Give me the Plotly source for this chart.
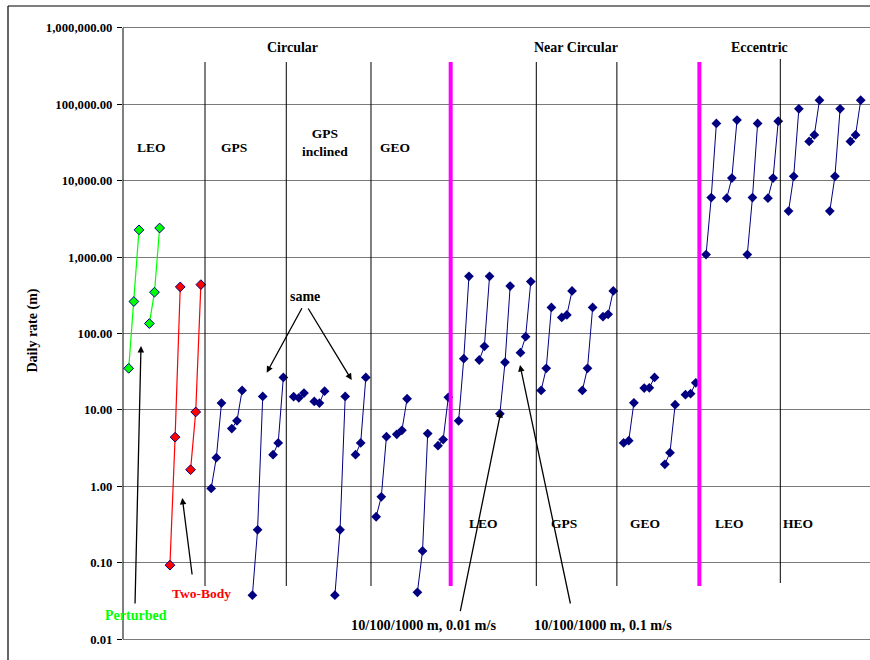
import math
import plotly.graph_objects as go

# ---------------- data (daily rate, m) ----------------
# each section: groups of three values (10 / 100 / 1000 m)
perturbed_leo = [[35, 262, 2270], [135, 347, 2400]]
two_body_leo = [[0.093, 4.4, 407], [1.65, 9.4, 436]]
circ_gps = [[0.94, 2.37, 12.3], [5.7, 7.2, 18], [0.0376, 0.27, 15], [2.6, 3.7, 26.6]]
circ_gps_incl = [[14.9, 14.4, 16.6], [12.9, 12.3, 17.6], [0.0376, 0.27, 15], [2.6, 3.7, 26.6]]
circ_geo = [[0.40, 0.73, 4.47], [4.8, 5.4, 14], [0.041, 0.143, 4.9], [3.4, 4.1, 14.6]]
nc_leo = [[7.2, 46.8, 560], [45, 68, 560], [8.9, 42, 418], [56, 91, 478]]
nc_gps = [[18, 35, 219], [162, 175, 361], [18, 35, 219], [166, 178, 361]]
nc_geo = [[3.7, 3.96, 12.4], [19.3, 19.5, 26.6], [1.94, 2.76, 11.7], [15.8, 16.3, 22.6]]
ecc_leo = [[1080, 6000, 56000], [5900, 10800, 62000], [1080, 6000, 56000], [5900, 10800, 60000]]
ecc_heo = [[4000, 11400, 87000], [32600, 39600, 113000], [4000, 11400, 87000], [32600, 39600, 113000]]

tick_vals = [0.01, 0.1, 1, 10, 100, 1000, 10000, 100000, 1000000]
tick_text = ["0.01", "0.10", "1.00", "10.00", "100.00", "1,000.00",
             "10,000.00", "100,000.00", "1,000,000.00"]

GREEN, RED, NAVY, MAGENTA = "#00FF00", "#FF0000", "#000080", "#FF00FF"

series = [
    ("Perturbed", perturbed_leo, GREEN),
    ("Two-Body", two_body_leo, RED),
    ("Circular GPS", circ_gps, NAVY),
    ("Circular GPS inclined", circ_gps_incl, NAVY),
    ("Circular GEO", circ_geo, NAVY),
    ("Near Circular LEO", nc_leo, NAVY),
    ("Near Circular GPS", nc_gps, NAVY),
    ("Near Circular GEO", nc_geo, NAVY),
    ("Eccentric LEO", ecc_leo, NAVY),
    ("Eccentric HEO", ecc_heo, NAVY),
]

# ---------------- layout geometry ----------------
W, H = 870, 660
ML, MR, MT, MB = 123, 0, 24, 17
Y0, Y1 = -2.05, 6.05
X0, X1 = -1.106, 143.8


def xp(px):
    return (px - ML) / (W - ML - MR)


def yp(py):
    return (H - MB - py) / (H - MT - MB)


def yv(v):
    return (math.log10(v) - Y0) / (Y1 - Y0)


fig = go.Figure()
g = 0
for name, groups, col in series:
    xs, ys = [], []
    for grp in groups:
        for k, v in enumerate(grp):
            xs.append(4 * g + k)
            ys.append(v)
        xs.append(None)
        ys.append(None)
        g += 1
    fig.add_trace(go.Scatter(
        x=xs, y=ys, mode="lines+markers", name=name, connectgaps=False,
        line=dict(color=col, width=1.2 if col != NAVY else 1),
        marker=dict(symbol="diamond", size=7.5, color=col,
                    line=dict(color=NAVY, width=1 if col != NAVY else 0)),
        showlegend=False, hoverinfo="x+y",
    ))

shapes = []
# section dividers (in category units)
dividers = [(14.8, "black", 1), (30.57, "black", 1), (47.0, "black", 1),
            (62.46, MAGENTA, 4), (79.07, "black", 1), (94.7, "black", 1),
            (110.7, MAGENTA, 4)]
for xv, col, w in dividers:
    shapes.append(dict(type="line", xref="x", yref="paper", x0=xv, x1=xv,
                       y0=yp(586), y1=yp(62), line=dict(color=col, width=w)))
shapes.append(dict(type="line", xref="x", yref="paper", x0=126.4, x1=126.4,
                   y0=yp(583), y1=yp(59), line=dict(color="black", width=1)))
# y axis line
shapes.append(dict(type="line", xref="paper", yref="paper", x0=0, x1=0,
                   y0=yv(0.01), y1=yv(1e6), line=dict(color="black", width=1)))
# outer frame
shapes.append(dict(type="line", xref="paper", yref="paper", x0=xp(8), x1=xp(8),
                   y0=yp(6), y1=yp(680), line=dict(color="black", width=1.2)))
shapes.append(dict(type="line", xref="paper", yref="paper", x0=xp(8), x1=xp(900),
                   y0=yp(6), y1=yp(6), line=dict(color="black", width=1.2)))

FONT = "Liberation Serif"
anns = []


def txt(s, px, py, size=14, color="black", angle=0):
    anns.append(dict(text=s, x=xp(px), y=yp(py), xref="paper", yref="paper",
                     showarrow=False, xanchor="center", yanchor="middle",
                     textangle=angle,
                     font=dict(family=FONT, size=size, color=color, weight="bold")))


def arrow(tx, ty, hx, hy):
    anns.append(dict(text="", x=xp(hx), y=yp(hy), xref="paper", yref="paper",
                     ax=tx - hx, ay=ty - hy, showarrow=True, arrowhead=2,
                     arrowsize=1, arrowwidth=1.3, arrowcolor="black",
                     standoff=0, startstandoff=0))


txt("Circular", 292, 47.5)
txt("Near Circular", 576, 47.5)
txt("Eccentric", 759.5, 47.5)
txt("LEO", 151.3, 147.5, 13.5)
txt("GPS", 234, 147.5, 13.5)
txt("GPS<br>inclined", 325.3, 142.5, 13.5)
txt("GEO", 394.7, 147.5, 13.5)
txt("LEO", 483, 523, 13.5)
txt("GPS", 564, 523, 13.5)
txt("GEO", 645.3, 523, 13.5)
txt("LEO", 729, 523, 13.5)
txt("HEO", 797.5, 523, 13.5)
txt("same", 305, 296.5)
txt("Perturbed", 136.3, 615.5, 14, GREEN)
txt("Two-Body", 201.3, 593.3, 13.5, RED)
txt("10/100/1000 m, 0.01 m/s", 423, 624.5, 14.3)
txt("10/100/1000 m, 0.1 m/s", 603, 624.5, 14.3)
txt("Daily rate (m)", 32.5, 331, 14, angle=-90)

arrow(135, 605, 141, 346)
arrow(192.3, 576, 182.3, 498)
arrow(302.7, 306.7, 266.7, 372.7)
arrow(307.3, 307, 351.7, 380)
arrow(460, 612.7, 501, 411)
arrow(570.7, 605, 520, 365)

fig.update_layout(
    width=W, height=H,
    margin=dict(l=ML, r=MR, t=MT, b=MB, pad=0),
    paper_bgcolor="white", plot_bgcolor="white",
    shapes=shapes, annotations=anns,
    xaxis=dict(range=[X0, X1], visible=False, showgrid=False, zeroline=False),
    yaxis=dict(type="log", range=[Y0, Y1], tickvals=tick_vals, ticktext=tick_text,
               showgrid=True, gridcolor="#7a7a7a", gridwidth=1.3,
               ticks="outside", ticklen=5, tickcolor="black", tickwidth=1,
               ticklabelstandoff=2,
               showline=False, zeroline=False,
               tickfont=dict(family=FONT, size=12.7, color="black", weight="bold")),
    font=dict(family=FONT),
)

fig.write_html("out.html")
